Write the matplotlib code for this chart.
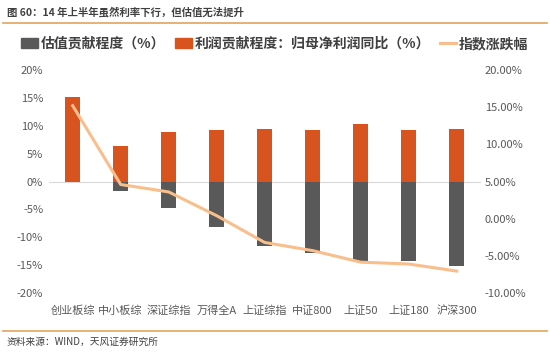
import numpy as np
import matplotlib.pyplot as plt
from matplotlib.lines import Line2D
from matplotlib.patches import Patch

plt.rcParams['font.family'] = ['Noto Sans CJK SC', 'DejaVu Sans']
plt.rcParams['axes.unicode_minus'] = False

# ========== 数据 ==========
categories = ['创业板综', '中小板综', '深证综指', '万得全A', '上证综指', '中证800', '上证50', '上证180', '沪深300']
valuation = [0.0, -1.7, -4.8, -8.1, -11.5, -12.8, -14.2, -14.2, -15.2]    # 估值贡献程度（%）
profit = [15.1, 6.4, 8.8, 9.3, 9.45, 9.2, 10.3, 9.3, 9.45]               # 利润贡献程度（%）
index_chg = [15.2, 4.6, 3.6, 0.4, -3.2, -4.3, -5.85, -6.1, -7.05]         # 指数涨跌幅（%）

left_ticks = [-20, -15, -10, -5, 0, 5, 10, 15, 20]
right_ticks = [-10, -5, 0, 5, 10, 15, 20]

c_gray = '#595959'
c_orange = '#D9531E'
c_line = '#F8BE8C'
c_tick = '#595959'
c_rule = '#E3A35A'

fig = plt.figure(figsize=(5.5, 3.52), dpi=100)
ax = fig.add_axes([0.0885, 0.1676, 0.7855, 0.6334])
x = np.arange(len(categories))
w = 0.31

ax.bar(x, profit, width=w, color=c_orange, zorder=2)
ax.bar(x, valuation, width=w, color=c_gray, zorder=2)
ax.axhline(0, color='#D9D9D9', linewidth=0.8, zorder=1)

ax.set_xlim(-0.5, len(categories) - 0.5)
ax.set_ylim(-20, 20)
ax.set_yticks(left_ticks)
ax.set_yticklabels([f'{t}%' for t in left_ticks])
ax.set_xticks(x)
ax.set_xticklabels(categories)
for s in ax.spines.values():
    s.set_visible(False)
ax.tick_params(axis='both', length=0, labelsize=8, colors=c_tick, pad=4)
ax.tick_params(axis='x', pad=9)

ax2 = ax.twinx()
ax2.plot(x, index_chg, color=c_line, linewidth=2.2, zorder=3)
ax2.set_ylim(-10, 20)
ax2.set_yticks(right_ticks)
ax2.set_yticklabels([f'{t:.2f}%' for t in right_ticks])
for s in ax2.spines.values():
    s.set_visible(False)
ax2.tick_params(axis='y', length=0, labelsize=8, colors=c_tick, pad=3)

# 图例
handles = [Patch(color=c_gray), Patch(color=c_orange), Line2D([0], [0], color=c_line, linewidth=2.2)]
labels = ['估值贡献程度（%）', '利润贡献程度：归母净利润同比（%）', '指数涨跌幅']
fig.legend(handles, labels, loc='center', bbox_to_anchor=(0.5, 0.875), ncol=3, frameon=False,
           prop={'size': 10, 'weight': 'bold'}, handlelength=1.2, handleheight=0.7,
           handletextpad=0.2, columnspacing=0.7, labelcolor='#404040')

# 标题与来源
fig.text(0.012, 0.966, '图 60：14 年上半年虽然利率下行，但估值无法提升', fontsize=7.5,
         color='#404040', weight='bold', va='center')
fig.add_artist(Line2D([0.005, 0.995], [0.935, 0.935], color=c_rule, linewidth=1.2))
fig.add_artist(Line2D([0.005, 0.995], [0.06, 0.06], color=c_rule, linewidth=1.2))
fig.text(0.012, 0.028, '资料来源：WIND，天风证券研究所', fontsize=7, color='#404040', va='center')

fig.savefig('out.png', dpi=100)
